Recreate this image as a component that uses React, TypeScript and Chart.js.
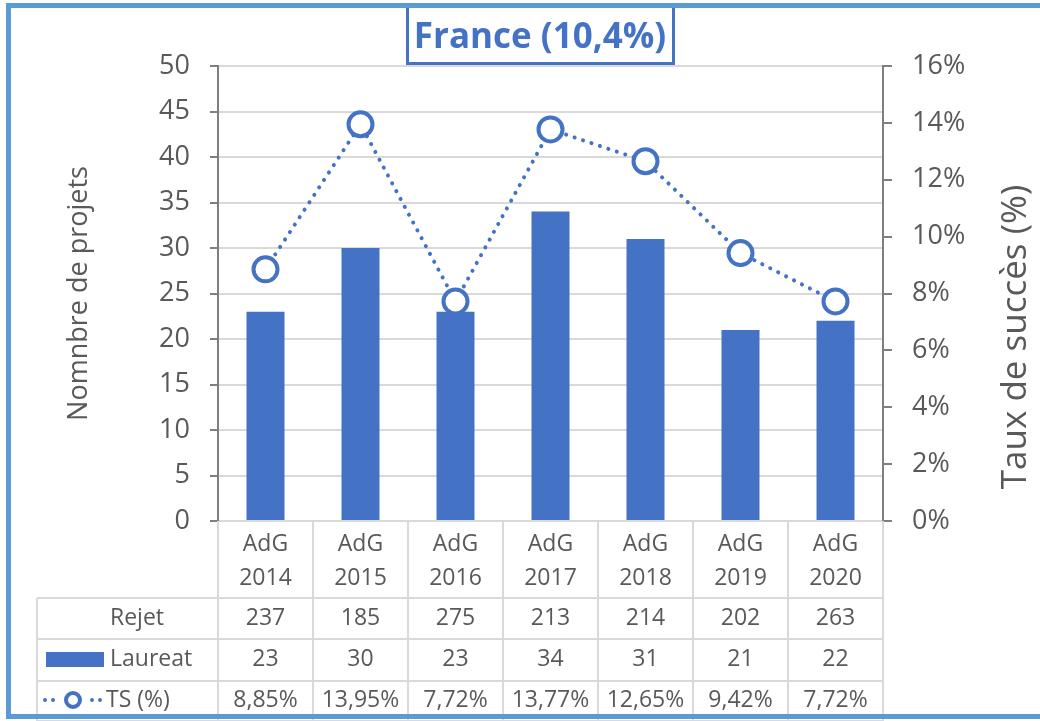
import React, { useEffect, useRef } from "react";
import { Chart, registerables } from "chart.js";

Chart.register(...registerables);

const categories = ["2014", "2015", "2016", "2017", "2018", "2019", "2020"];
const categoryPrefix = "AdG";
const rejet = [237, 185, 275, 213, 214, 202, 263];
const laureat = [23, 30, 23, 34, 31, 21, 22];
const tauxSucces = [8.85, 13.95, 7.72, 13.77, 12.65, 9.42, 7.72];
const tsLabels = ["8,85%", "13,95%", "7,72%", "13,77%", "12,65%", "9,42%", "7,72%"];
const titleText = "France (10,4%)";
const leftTitle = "Nomnbre de projets";
const rightTitle = "Taux de succès (%)";

const BLUE = "#4472C4";
const FRAME = "#5B9BD5";
const TEXT = "#595959";
const GRID = "#D9D9D9";
const AXIS = "#7F7F7F";
const FONT = "'Open Sans', 'Noto Sans', sans-serif";

const W = 1040;
const H = 721;

const decorPlugin = {
  id: "decor",
  afterDraw(chart: any) {
    const ctx = chart.ctx;
    const area = chart.chartArea;
    const n = categories.length;
    const cw = (area.right - area.left) / n;
    const xs = chart.scales.x;
    ctx.save();

    // Data table lines
    const legendLeft = 37;
    const headerBottom = 598;
    const rowBottoms = [639, 681, 721];
    ctx.strokeStyle = GRID;
    ctx.lineWidth = 2;
    ctx.beginPath();
    for (let i = 0; i <= n; i++) {
      const x = Math.round(area.left + i * cw);
      ctx.moveTo(x, area.bottom);
      ctx.lineTo(x, H);
    }
    ctx.moveTo(legendLeft, headerBottom);
    ctx.lineTo(legendLeft, H);
    ctx.moveTo(legendLeft, headerBottom);
    ctx.lineTo(area.right, headerBottom);
    for (const yb of rowBottoms) {
      ctx.moveTo(legendLeft, yb);
      ctx.lineTo(area.right, yb);
    }
    ctx.stroke();

    // Header text
    ctx.fillStyle = TEXT;
    ctx.font = `23px ${FONT}`;
    ctx.textAlign = "center";
    ctx.textBaseline = "middle";
    categories.forEach((c, i) => {
      const x = xs.getPixelForValue(i);
      ctx.fillText(categoryPrefix, x, 544);
      ctx.fillText(c, x, 578);
    });
    const rowsY = [618, 659, 700];
    categories.forEach((_, i) => {
      const x = xs.getPixelForValue(i);
      ctx.fillText(String(rejet[i]), x, rowsY[0]);
      ctx.fillText(String(laureat[i]), x, rowsY[1]);
      ctx.fillText(tsLabels[i], x, rowsY[2]);
    });

    // Row labels
    ctx.textAlign = "left";
    ctx.fillText("Rejet", 110, rowsY[0]);
    ctx.fillText("Laureat", 110, rowsY[1]);
    ctx.fillText("TS (%)", 106, rowsY[2]);

    // Legend keys
    ctx.fillStyle = BLUE;
    ctx.fillRect(46, 652, 58, 15);
    ctx.beginPath();
    for (const dx of [45, 53, 92, 100]) {
      ctx.moveTo(dx + 2, rowsY[2]);
      ctx.arc(dx, rowsY[2], 2, 0, Math.PI * 2);
    }
    ctx.fill();
    ctx.beginPath();
    ctx.arc(73, rowsY[2], 7, 0, Math.PI * 2);
    ctx.fillStyle = "#fff";
    ctx.fill();
    ctx.lineWidth = 4;
    ctx.strokeStyle = BLUE;
    ctx.stroke();

    // Right axis title (reads bottom to top)
    ctx.save();
    ctx.translate(1016, 337);
    ctx.rotate(-Math.PI / 2);
    ctx.fillStyle = TEXT;
    ctx.font = `35px ${FONT}`;
    ctx.textAlign = "center";
    ctx.textBaseline = "middle";
    ctx.fillText(rightTitle, 0, 0);
    ctx.restore();

    // Title box
    ctx.fillStyle = "#fff";
    ctx.fillRect(407, 6, 267, 58);
    ctx.strokeStyle = BLUE;
    ctx.lineWidth = 3;
    ctx.strokeRect(407.5, 6, 266, 57.5);
    ctx.fillStyle = BLUE;
    ctx.font = `bold 35px ${FONT}`;
    ctx.textAlign = "center";
    ctx.textBaseline = "middle";
    ctx.fillText(titleText, 540, 38);

    // Outer frame
    ctx.strokeStyle = FRAME;
    ctx.lineWidth = 5;
    ctx.strokeRect(8.5, 5.5, 1045, 711);
    ctx.restore();
  },
};

export default function App() {
  const ref = useRef<HTMLCanvasElement | null>(null);
  useEffect(() => {
    if (!ref.current) return;
    const chart = new Chart(ref.current, {
      data: {
        labels: categories.map((c) => `${categoryPrefix} ${c}`),
        datasets: [
          {
            type: "line",
            label: "TS (%)",
            data: tauxSucces,
            yAxisID: "y1",
            order: 0,
            borderColor: BLUE,
            borderWidth: 4,
            borderDash: [0.1, 8.8],
            borderCapStyle: "round",
            tension: 0,
            pointRadius: 12,
            pointBorderWidth: 4,
            pointBackgroundColor: "#ffffff",
            pointBorderColor: BLUE,
          } as any,
          {
            type: "bar",
            label: "Laureat",
            data: laureat,
            yAxisID: "y",
            order: 1,
            backgroundColor: BLUE,
            categoryPercentage: 1,
            barPercentage: 0.4,
          } as any,
        ],
      },
      options: {
        responsive: false,
        animation: false,
        layout: { padding: { top: 66, bottom: 200, left: 0, right: 0 } },
        plugins: { legend: { display: false }, tooltip: { enabled: false }, title: { display: false } },
        scales: {
          x: { type: "category", display: false, offset: true },
          y: {
            position: "left",
            min: 0,
            max: 50,
            ticks: { stepSize: 5, color: TEXT, font: { family: FONT, size: 27 }, padding: 20 },
            grid: { color: GRID, lineWidth: 2, tickColor: AXIS, tickLength: 8 },
            border: { color: AXIS, width: 2 },
            title: {
              display: true,
              text: leftTitle,
              color: TEXT,
              font: { family: FONT, size: 27 },
              padding: { top: 63, bottom: 0 },
            },
            afterFit: (s: any) => {
              s.width = 218;
            },
          },
          y1: {
            position: "right",
            min: 0,
            max: 16,
            ticks: {
              stepSize: 2,
              color: TEXT,
              font: { family: FONT, size: 27 },
              padding: 20,
              callback: (v: any) => `${v}%`,
            },
            grid: { drawOnChartArea: false, tickColor: AXIS, tickLength: 9, lineWidth: 2 },
            border: { color: AXIS, width: 2 },
            title: { display: false },
            afterFit: (s: any) => {
              s.width = W - 883;
            },
          },
        },
      },
      plugins: [decorPlugin],
    } as any);
    return () => chart.destroy();
  }, []);
  return (
    <div style={{ position: "fixed", left: 0, top: 0, width: W, height: H, background: "#fff" }}>
      <canvas ref={ref} width={W} height={H} style={{ display: "block" }} />
    </div>
  );
}
